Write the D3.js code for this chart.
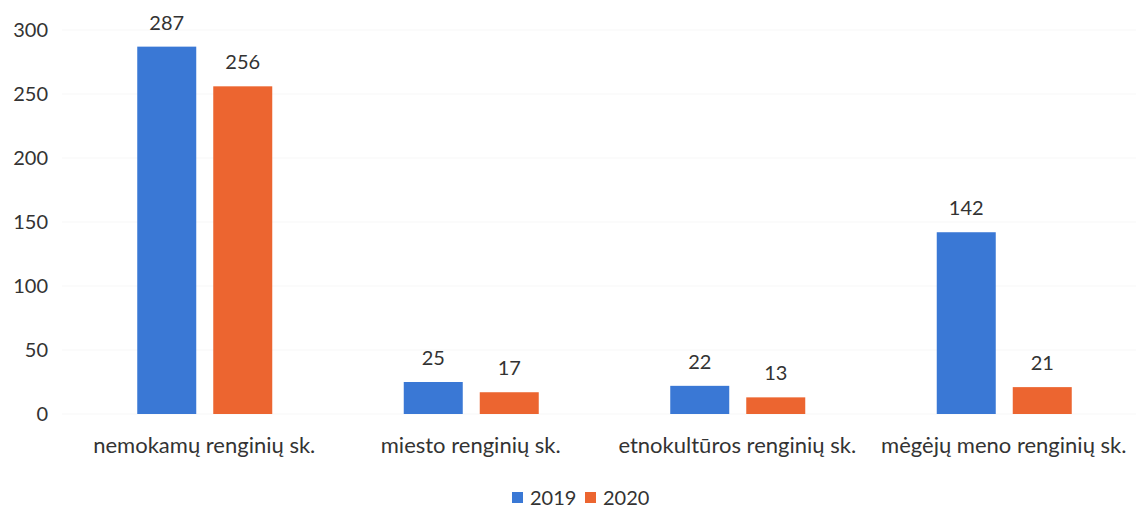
<!DOCTYPE html>
<html>
<head>
<meta charset="utf-8">
<script src="https://cdn.jsdelivr.net/npm/d3@7"></script>
<style>
  body { margin: 0; background: #fff; }
  svg { display: block; font-family: Lato, "Open Sans", sans-serif; }
</style>
</head>
<body>
<svg width="1136" height="510"></svg>
<script>
var categories = ['nemokamų renginių sk.', 'miesto renginių sk.', 'etnokultūros renginių sk.', 'mėgėjų meno renginių sk.'];
var years = ['2019', '2020'];
var values2019 = [287, 25, 22, 142];
var values2020 = [256, 17, 13, 21];
var yTicks = [0, 50, 100, 150, 200, 250, 300];
var colors = ['#3a78d5', '#ec6530'];

var svg = d3.select('svg');
var plotLeft = 71, plotRight = 1137, plotTop = 30, plotBottom = 414;

var x = d3.scaleBand().domain(categories).range([plotLeft, plotRight]);
var y = d3.scaleLinear().domain([0, 300]).range([plotBottom, plotTop]);

// grid (very faint in the original)
svg.append('g').selectAll('line')
  .data(yTicks)
  .enter()
  .append('line')
  .attr('x1', 62).attr('x2', 1136)
  .attr('y1', function(d){ return y(d); })
  .attr('y2', function(d){ return y(d); })
  .attr('stroke', '#f7f7f7')
  .attr('stroke-width', 1);

// y axis labels
var yAxis = d3.axisLeft(y).tickValues(yTicks).tickSize(0).tickPadding(0);
svg.append('g')
  .attr('transform', 'translate(48,0)')
  .call(yAxis)
  .call(function(g){
    g.select('.domain').remove();
    g.selectAll('text').attr('font-size', 20).attr('fill', '#333').attr('font-family', 'Lato, sans-serif');
  });

var rows = categories.map(function(c, i){
  return [{ cat: c, year: '2019', v: values2019[i] }, { cat: c, year: '2020', v: values2020[i] }];
});

var barW = 59;
var groups = svg.append('g').selectAll('g')
  .data(rows)
  .enter()
  .append('g')
  .attr('transform', function(d){ return 'translate(' + (x(d[0].cat) + x.bandwidth() / 2 - 67) + ',0)'; });

groups.selectAll('rect')
  .data(function(d){ return d; })
  .enter()
  .append('rect')
  .attr('x', function(d){ return d.year === '2019' ? 0 : 76; })
  .attr('width', barW)
  .attr('y', function(d){ return y(d.v); })
  .attr('height', function(d){ return y(0) - y(d.v); })
  .attr('fill', function(d, i){ return colors[i]; });

groups.selectAll('text')
  .data(function(d){ return d; })
  .enter()
  .append('text')
  .attr('x', function(d){ return (d.year === '2019' ? 0 : 76) + barW / 2; })
  .attr('y', function(d){ return y(d.v) - 17; })
  .attr('text-anchor', 'middle')
  .attr('font-size', 20)
  .attr('fill', '#333')
  .text(function(d){ return d.v; });

// category labels
var xAxis = d3.axisBottom(x).tickSize(0).tickPadding(0);
svg.append('g')
  .attr('transform', 'translate(0,' + 446 + ')')
  .call(xAxis)
  .call(function(g){
    g.select('.domain').remove();
    g.selectAll('text').attr('font-size', 22).attr('fill', '#333').attr('font-family', 'Lato, sans-serif').attr('dy', '0.3em');
  });

// legend
var legend = svg.append('g').selectAll('g')
  .data(years)
  .enter()
  .append('g')
  .attr('transform', function(d, i){ return 'translate(' + (512 + i * 73) + ',492)'; });

legend.append('rect')
  .attr('width', 11).attr('height', 11)
  .attr('fill', function(d, i){ return colors[i]; });

legend.append('text')
  .attr('x', 18).attr('y', 6)
  .attr('dy', '0.35em')
  .attr('font-size', 20)
  .attr('fill', '#333')
  .text(function(d){ return d; });
</script>
</body>
</html>
